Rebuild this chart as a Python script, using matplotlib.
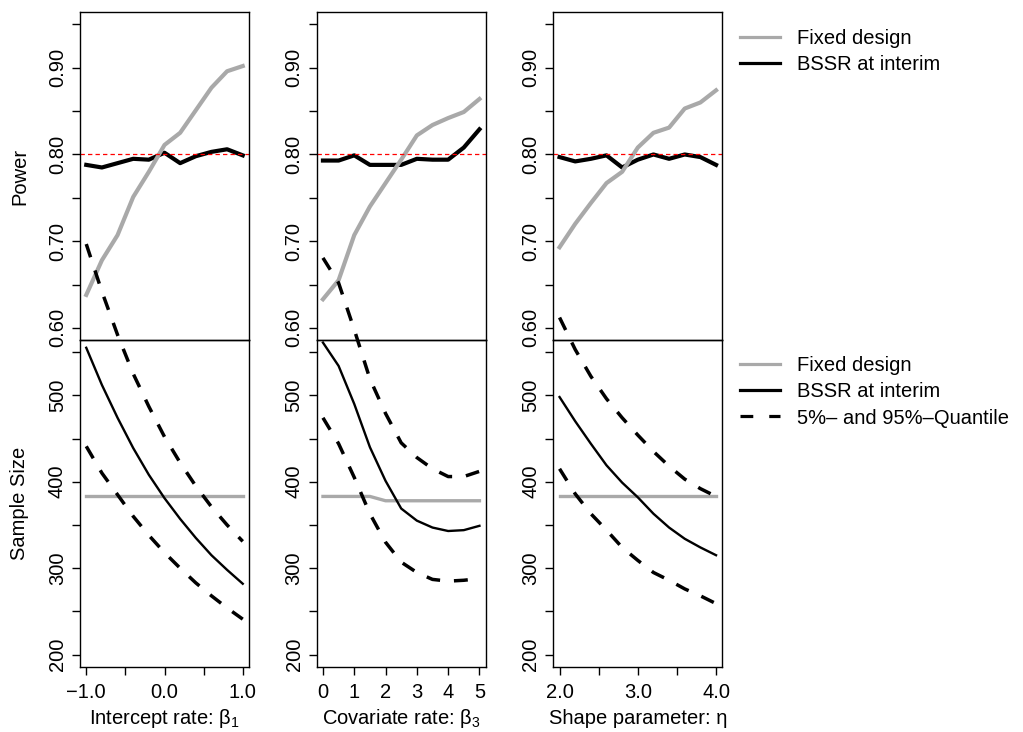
import matplotlib
matplotlib.use("Agg")
import matplotlib.pyplot as plt
from matplotlib.lines import Line2D

plt.rcParams['font.family'] = ['Liberation Sans', 'DejaVu Sans']
plt.rcParams['mathtext.fontset'] = 'custom'
plt.rcParams['mathtext.rm'] = 'Liberation Sans'
plt.rcParams['mathtext.it'] = 'Liberation Sans:italic'
plt.rcParams['axes.unicode_minus'] = True

# ---------------- data ----------------
beta1 = [-1.0, -0.8, -0.6, -0.4, -0.2, 0.0, 0.2, 0.4, 0.6, 0.8, 1.0]
power_fixed_b1 = [0.638, 0.678, 0.707, 0.751, 0.780, 0.811, 0.825, 0.851, 0.877, 0.896, 0.902]
power_bssr_b1 = [0.788, 0.785, 0.790, 0.795, 0.794, 0.802, 0.790, 0.798, 0.803, 0.806, 0.799]
n_fixed_b1 = [383, 383, 383, 383, 383, 383, 383, 383, 383, 383, 383]
n_bssr_b1 = [555, 512, 474, 439, 408, 381, 357, 335, 315, 298, 282]
n_q05_b1 = [441, 410, 385, 360, 338, 318, 300, 283, 268, 254, 241]
n_q95_b1 = [675, 620, 570, 525, 487, 452, 422, 395, 371, 350, 331]

beta3 = [0.0, 0.5, 1.0, 1.5, 2.0, 2.5, 3.0, 3.5, 4.0, 4.5, 5.0]
power_fixed_b3 = [0.633, 0.655, 0.707, 0.740, 0.767, 0.794, 0.822, 0.834, 0.842, 0.849, 0.864]
power_bssr_b3 = [0.793, 0.793, 0.799, 0.788, 0.788, 0.788, 0.795, 0.794, 0.794, 0.808, 0.829]
n_fixed_b3 = [383, 383, 383, 383, 378, 378, 378, 378, 378, 378, 378]
n_bssr_b3 = [561, 534, 490, 440, 401, 369, 355, 347, 343, 344, 349]
n_q05_b3 = [474, 444, 405, 363, 330, 307, 295, 287, 285, 286, 288]
n_q95_b3 = [659, 630, 576, 519, 479, 445, 428, 415, 406, 406, 412]

eta = [2.0, 2.2, 2.4, 2.6, 2.8, 3.0, 3.2, 3.4, 3.6, 3.8, 4.0]
power_fixed_eta = [0.693, 0.720, 0.744, 0.767, 0.780, 0.808, 0.825, 0.831, 0.853, 0.860, 0.874]
power_bssr_eta = [0.797, 0.792, 0.795, 0.799, 0.785, 0.794, 0.800, 0.795, 0.800, 0.797, 0.788]
n_fixed_eta = [383, 383, 383, 383, 383, 383, 383, 383, 383, 383, 383]
n_bssr_eta = [498, 470, 444, 419, 399, 382, 363, 347, 334, 324, 315]
n_q05_eta = [415, 386, 363, 344, 324, 309, 295, 286, 276, 268, 259]
n_q95_eta = [590, 553, 522, 496, 474, 454, 435, 418, 403, 392, 383]

target_power = 0.80

xlabels = ["Intercept rate: β$_1$", "Covariate rate: β$_3$", "Shape parameter: η"]
xticks_list = [[-1.0, -0.5, 0.0, 0.5, 1.0],
               [0, 1, 2, 3, 4, 5],
               [2.0, 2.5, 3.0, 3.5, 4.0]]
xticklabels_list = [["\u22121.0", "", "0.0", "", "1.0"],
                    ["0", "1", "2", "3", "4", "5"],
                    ["2.0", "", "3.0", "", "4.0"]]
power_ticks = [0.60, 0.65, 0.70, 0.75, 0.80, 0.85, 0.90, 0.95]
power_ticklabels = ["0.60", "", "0.70", "", "0.80", "", "0.90", ""]
n_ticks = [200, 250, 300, 350, 400, 450, 500, 550]
n_ticklabels = ["200", "", "300", "", "400", "", "500", ""]
legend_top = ["Fixed design", "BSSR at interim"]
legend_bottom = ["Fixed design", "BSSR at interim", "5%\u2013 and 95%\u2013Quantile"]

# ---------------- style ----------------
GRAY = "#A9A9A9"
FS = 14.5
W, H = 1023, 732


def rect(x0, y0, x1, y1):
    return [x0 / W, 1 - y1 / H, (x1 - x0) / W, (y1 - y0) / H]


def rlim(lo, hi):
    d = 0.04 * (hi - lo)
    return lo - d, hi + d


fig = plt.figure(figsize=(W / 100, H / 100), dpi=100)

xs = [beta1, beta3, eta]
pf = [power_fixed_b1, power_fixed_b3, power_fixed_eta]
pb = [power_bssr_b1, power_bssr_b3, power_bssr_eta]
nf = [n_fixed_b1, n_fixed_b3, n_fixed_eta]
nb = [n_bssr_b1, n_bssr_b3, n_bssr_eta]
nq05 = [n_q05_b1, n_q05_b3, n_q05_eta]
nq95 = [n_q95_b1, n_q95_b3, n_q95_eta]

lefts = [80, 316.7, 553.3]
pw = 169
top_y = (12.3, 340)
bot_y = (340, 666.7)

for i in range(3):
    x = xs[i]
    xl = rlim(min(x), max(x))
    # top panel: power
    axt = fig.add_axes(rect(lefts[i], top_y[0], lefts[i] + pw, top_y[1]))
    axt.set_zorder(1)
    axt.plot(x, pb[i], color="black", lw=3.0, solid_joinstyle="round")
    axt.plot(x, pf[i], color=GRAY, lw=3.0, solid_joinstyle="round")
    axt.axhline(target_power, color="red", lw=0.9, ls=(0, (3.5, 2.5)))
    axt.set_xlim(xl)
    axt.set_ylim(rlim(0.60, 0.95))
    axt.set_xticks([])
    axt.set_yticks(power_ticks)
    axt.set_yticklabels(power_ticklabels)

    # bottom panel: sample size
    axb = fig.add_axes(rect(lefts[i], bot_y[0], lefts[i] + pw, bot_y[1]))
    axb.set_zorder(2)
    axb.patch.set_alpha(0)
    axb.plot(x, nf[i], color=GRAY, lw=2.4, clip_on=False)
    axb.plot(x, nb[i], color="black", lw=1.7, clip_on=False)
    axb.plot(x, nq05[i], color="black", lw=2.5, ls=(0, (4, 4)), clip_on=False)
    axb.plot(x, nq95[i], color="black", lw=2.5, ls=(0, (4, 4)), clip_on=False)
    axb.set_xlim(xl)
    axb.set_ylim(rlim(200, 550))
    axb.set_yticks(n_ticks)
    axb.set_yticklabels(n_ticklabels)
    axb.set_xticks(xticks_list[i])
    axb.set_xticklabels(xticklabels_list[i])
    axb.set_xlabel(xlabels[i], fontsize=FS)
    axb.xaxis.label.set_va("center")
    axb.xaxis.set_label_coords(0.5, -(718 - bot_y[1]) / (bot_y[1] - bot_y[0]))

    for ax in (axt, axb):
        for sp in ax.spines.values():
            sp.set_linewidth(1.0)
        ax.tick_params(direction="out", length=5.5, width=1.0, labelsize=FS, pad=4)
        ax.tick_params(axis="x", pad=6.5)
        for lab in ax.get_yticklabels():
            lab.set_rotation(90)
            lab.set_va("center")
            lab.set_ha("right")

    if i == 0:
        axt.set_ylabel("Power", fontsize=FS)
        axt.yaxis.label.set_va("center")
        axt.yaxis.set_label_coords((20 - lefts[0]) / pw, 0.5)
        axb.set_ylabel("Sample Size", fontsize=FS)
        axb.yaxis.label.set_va("center")
        axb.yaxis.set_label_coords((20 - lefts[0]) / pw, 0.5)

# legends
h_top = [Line2D([], [], color=GRAY, lw=2.3), Line2D([], [], color="black", lw=2.3)]
fig.legend(h_top, legend_top, loc="upper left", bbox_to_anchor=(740 / W, 1 - 29 / H),
           frameon=False, fontsize=FS, handlelength=2.0, handletextpad=0.85,
           labelspacing=0.36, borderpad=0, borderaxespad=0)
h_bot = [Line2D([], [], color=GRAY, lw=2.3), Line2D([], [], color="black", lw=2.3),
         Line2D([], [], color="black", lw=2.3, ls=(0, (4, 5)))]
fig.legend(h_bot, legend_bottom, loc="upper left", bbox_to_anchor=(740 / W, 1 - 356 / H),
           frameon=False, fontsize=FS, handlelength=2.0, handletextpad=0.85,
           labelspacing=0.36, borderpad=0, borderaxespad=0)

fig.savefig("out.png", dpi=100)
